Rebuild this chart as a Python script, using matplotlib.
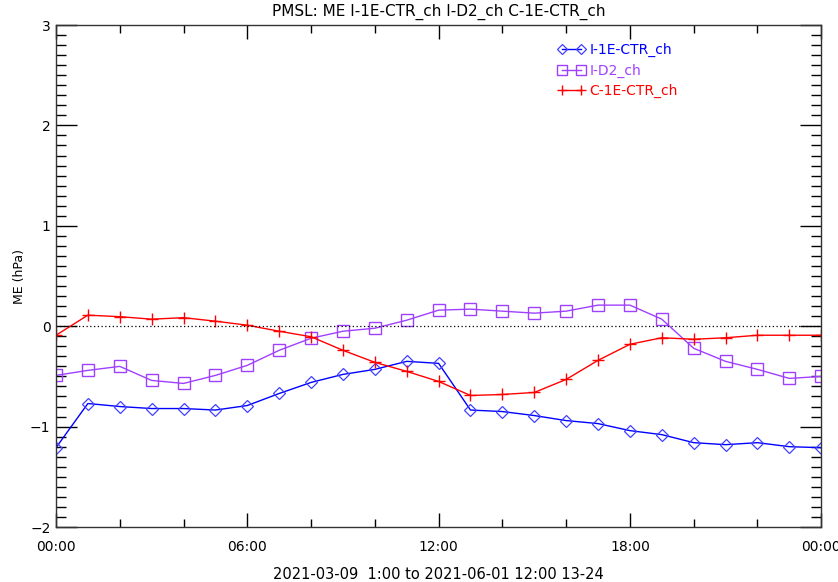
import numpy as np
import matplotlib
matplotlib.use("Agg")
import matplotlib.pyplot as plt
from matplotlib.ticker import MultipleLocator

# hours of the day (00:00 .. next 00:00)
hours = np.arange(25)

i_1e_ctr = [-1.21, -0.77, -0.80, -0.82, -0.82, -0.835, -0.79, -0.67, -0.56, -0.48,
            -0.43, -0.35, -0.37, -0.835, -0.85, -0.89, -0.94, -0.97, -1.04, -1.08,
            -1.16, -1.18, -1.16, -1.20, -1.21]
i_d2 = [-0.49, -0.44, -0.40, -0.54, -0.57, -0.49, -0.39, -0.24, -0.12, -0.05,
        -0.02, 0.06, 0.16, 0.17, 0.15, 0.13, 0.15, 0.21, 0.21, 0.07,
        -0.22, -0.35, -0.43, -0.52, -0.50]
c_1e_ctr = [-0.09, 0.11, 0.095, 0.07, 0.085, 0.05, 0.01, -0.05, -0.105, -0.24,
            -0.36, -0.45, -0.55, -0.69, -0.68, -0.66, -0.53, -0.34, -0.18, -0.115,
            -0.13, -0.115, -0.09, -0.09, -0.09]

xtick_pos = [0, 6, 12, 18, 24]
xtick_lab = ["00:00", "06:00", "12:00", "18:00", "00:00"]
ytick_pos = [-2, -1, 0, 1, 2, 3]
ytick_lab = ["\u22122", "\u22121", "0", "1", "2", "3"]

fig = plt.figure(figsize=(8.38, 5.82), dpi=100)
ax = fig.add_axes([0.0668, 0.0945, 0.9132, 0.8625])

ax.plot(hours, i_1e_ctr, color="#0000ff", lw=1, marker="D", ms=6, mfc="none",
        mec="#4040ff", mew=0.9, label="I-1E-CTR_ch")
ax.plot(hours, i_d2, color="#a040ff", lw=1, marker="s", ms=8, mfc="none",
        mec="#a040ff", mew=1, label="I-D2_ch")
ax.plot(hours, c_1e_ctr, color="#ff0000", lw=1, marker="+", ms=9, mew=1,
        label="C-1E-CTR_ch")
ax.axhline(0, color="black", lw=0.9, ls=(0, (1, 2)))

ax.set_xlim(0, 24)
ax.set_ylim(-2, 3)
ax.set_xticks(xtick_pos)
ax.set_xticklabels(xtick_lab)
ax.set_yticks(ytick_pos)
ax.set_yticklabels(ytick_lab)
ax.xaxis.set_minor_locator(MultipleLocator(2))
ax.yaxis.set_minor_locator(MultipleLocator(0.1))
ax.tick_params(which="both", direction="in", top=True, right=True, labelsize=10, width=1)
ax.tick_params(axis="y", which="major", length=15, pad=4)
ax.tick_params(axis="y", which="minor", length=7)
ax.tick_params(axis="x", which="major", length=10, pad=9)
ax.tick_params(axis="x", which="minor", length=6)
for s in ax.spines.values():
    s.set_linewidth(1)
    s.set_color("#333333")

ax.set_title("PMSL: ME I-1E-CTR_ch I-D2_ch C-1E-CTR_ch", fontsize=11, pad=7)
ax.set_xlabel("2021-03-09  1:00 to 2021-06-01 12:00 13-24", fontsize=10.5, labelpad=10)
ax.set_ylabel("ME (hPa)", fontsize=9, labelpad=3)

leg = ax.legend(loc="upper left", bbox_to_anchor=(0.648, 0.975), frameon=False,
                numpoints=2, fontsize=10, handlelength=2.0, handletextpad=0.3,
                labelspacing=0.45, borderaxespad=0, markerscale=0.85)
for t, c in zip(leg.get_texts(), ["#0000ff", "#a040ff", "#ff0000"]):
    t.set_color(c)

fig.savefig("out.png", dpi=100)
